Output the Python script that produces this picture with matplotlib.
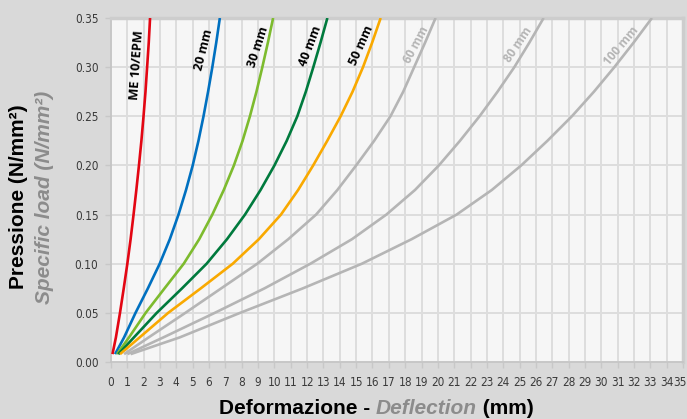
import matplotlib
matplotlib.use("Agg")
import matplotlib.pyplot as plt
from matplotlib import font_manager as fm
import os

# ---------------- data ----------------
series_names = ["ME 10/EPM", "20 mm", "30 mm", "40 mm", "50 mm", "60 mm", "80 mm", "100 mm"]
y_levels = [0.008, 0.025, 0.05, 0.075, 0.10, 0.125, 0.15, 0.175,
            0.20, 0.225, 0.25, 0.275, 0.30, 0.325, 0.35]
x_me10 = [0.09, 0.30, 0.55, 0.78, 1.00, 1.20, 1.38, 1.55, 1.71, 1.86, 1.99, 2.11, 2.21, 2.31, 2.39]
x_20 = [0.25, 0.80, 1.50, 2.26, 2.98, 3.60, 4.13, 4.59, 5.00, 5.35, 5.66, 5.94, 6.20, 6.44, 6.66]
x_30 = [0.37, 1.10, 2.12, 3.28, 4.45, 5.40, 6.20, 6.90, 7.52, 8.05, 8.50, 8.90, 9.26, 9.60, 9.92]
x_40 = [0.45, 1.40, 2.80, 4.35, 5.85, 7.10, 8.20, 9.15, 10.00, 10.75, 11.40, 11.92, 12.38, 12.82, 13.24]
x_50 = [0.55, 1.75, 3.50, 5.50, 7.45, 9.05, 10.40, 11.45, 12.37, 13.23, 14.05, 14.78, 15.42, 15.98, 16.50]
x_60 = [0.80, 2.30, 4.55, 6.75, 8.95, 10.85, 12.55, 13.85, 15.00, 16.10, 17.10, 17.88, 18.55, 19.22, 19.86]
x_80 = [1.00, 3.20, 6.35, 9.40, 12.20, 14.75, 16.85, 18.60, 20.06, 21.35, 22.55, 23.65, 24.68, 25.60, 26.47]
x_100 = [1.20, 4.20, 7.90, 11.75, 15.35, 18.40, 21.15, 23.30, 25.10, 26.70, 28.20, 29.55, 30.80, 31.98, 33.10]
series_x = [x_me10, x_20, x_30, x_40, x_50, x_60, x_80, x_100]

x_ticks = list(range(0, 36))
y_ticks = [0.00, 0.05, 0.10, 0.15, 0.20, 0.25, 0.30, 0.35]

# ---------------- style ----------------
colors = ["#e30613", "#0070c0", "#7dbb2e", "#007a3d", "#f9a900",
          "#b5b5b5", "#b5b5b5", "#b5b5b5"]
label_colors = ["#000000"] * 5 + ["#b5b5b5"] * 3
label_pos = [(1.58, 0.302), (5.68, 0.318), (9.00, 0.321), (12.20, 0.321),
             (15.35, 0.322), (18.65, 0.323), (24.90, 0.323), (31.20, 0.322)]
label_rot = [86, 76, 72, 69, 66, 62, 56, 50]
label_sizes = [9.2, 9, 9, 9, 9, 8.6, 8.6, 8.6]

avail = {f.name for f in fm.fontManager.ttflist}
label_font = "Open Sans" if "Open Sans" in avail else "DejaVu Sans"
title_font = "Liberation Sans"

# condensed font for tick labels, if available
cands = []
for f in fm.fontManager.ttflist:
    base = os.path.basename(f.fname).lower()
    if ("narrow" in base or "condensed" in base) and "bold" not in base \
            and "italic" not in base and "oblique" not in base:
        cands.append(f.fname)
pref = ["liberationsansnarrow-regular", "dejavusanscondensed.", "robotocondensed-regular"]
chosen = None
for p in pref:
    for c in cands:
        if p in os.path.basename(c).lower():
            chosen = c
            break
    if chosen:
        break
if chosen is None and cands:
    chosen = cands[0]
if chosen:
    tick_fp = fm.FontProperties(fname=chosen, size=8.5)
else:
    tick_fp = fm.FontProperties(family="Liberation Sans", size=7.8)

W, H = 687, 419
fig = plt.figure(figsize=(W / 100, H / 100), dpi=100)
fig.patch.set_facecolor("#d9d9d9")
ax = fig.add_axes([111 / W, 1 - 362 / H, (683 - 111) / W, (362 - 18) / H])
ax.set_facecolor("#f6f6f6")

for xs, c in zip(series_x, colors):
    ax.plot(xs, y_levels, color=c, lw=1.9, solid_capstyle="butt",
            solid_joinstyle="round", zorder=3)

for name, (lx, ly), rot, c, fs in zip(series_names, label_pos, label_rot,
                                      label_colors, label_sizes):
    ax.text(lx, ly, name, rotation=rot, ha="center", va="center", color=c,
            fontsize=fs, fontweight="bold", family=label_font, zorder=4,
            rotation_mode="anchor")

ax.set_xlim(0, 35)
ax.set_ylim(0, 0.35)
ax.set_xticks(x_ticks)
xlabels = [str(v) for v in x_ticks]
ax.set_xticklabels(xlabels[:-1] + [""])
ax.set_yticks(y_ticks)
ax.set_yticklabels([f"{v:.2f}" for v in y_ticks])
ax.grid(True, color="#dddddd", lw=1.4, zorder=0)
ax.set_axisbelow(True)
for s in ["left", "bottom"]:
    ax.spines[s].set_color("#c4c4c4")
    ax.spines[s].set_linewidth(1.2)
for s in ["top", "right"]:
    ax.spines[s].set_color("#cdcdcd")
    ax.spines[s].set_linewidth(2.5)
ax.tick_params(axis="both", colors="#c8c8c8", length=4, width=1,
               labelcolor="#3a3a3a")
ax.tick_params(axis="x", pad=6)
ax.tick_params(axis="y", pad=5)
for t in ax.get_xticklabels() + ax.get_yticklabels():
    t.set_fontproperties(tick_fp)
# last x tick label, kept inside the figure (as in the reference "3435")
last = ax.annotate(xlabels[-1], xy=(x_ticks[-1], 0), xycoords=("data", "axes fraction"),
                   xytext=(2.5, -10), textcoords="offset points", ha="right", va="top",
                   color="#3a3a3a", annotation_clip=False)
last.set_fontproperties(tick_fp)

# y axis titles
yc = 1 - 197 / H
fig.text(19 / W, yc, "Pressione (N/mm²)", rotation=90, ha="center", va="center",
         fontsize=15, fontweight="bold", family=title_font, color="#000000")
fig.text(45 / W, yc, "Specific load (N/mm²)", rotation=90, ha="center", va="center",
         fontsize=15, fontweight="bold", style="italic", family=title_font,
         color="#8c8c8c")

# x axis title with mixed colours
parts = [("Deformazione - ", "#000000", "normal"),
         ("Deflection", "#8c8c8c", "italic"),
         (" (mm)", "#000000", "normal")]
fig.canvas.draw()
r = fig.canvas.get_renderer()
texts = []
widths = []
for s, c, st in parts:
    t = fig.text(0, 0, s, fontsize=15, fontweight="bold", style=st,
                 family=title_font, color=c, ha="left", va="center")
    texts.append(t)
    widths.append(t.get_window_extent(renderer=r).width)
total = sum(widths)
x0 = 376 - total / 2
yx = 1 - 408 / H
for t, w in zip(texts, widths):
    t.set_position((x0 / W, yx))
    x0 += w

fig.savefig("out.png", dpi=100, facecolor=fig.get_facecolor())
